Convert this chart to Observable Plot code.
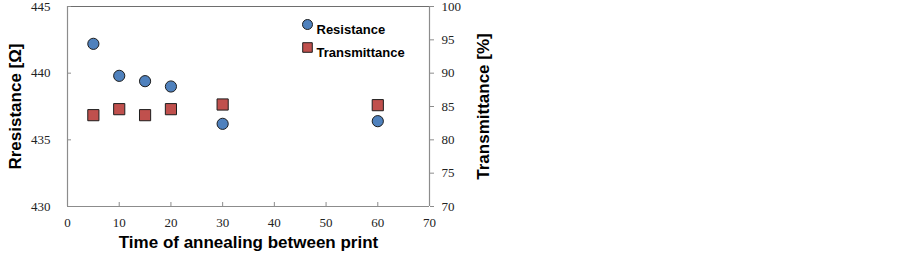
<!DOCTYPE html>
<html>
<head>
<meta charset="utf-8">
<script src="https://cdn.jsdelivr.net/npm/d3@7"></script>
<script src="https://cdn.jsdelivr.net/npm/@observablehq/plot@0.6"></script>
<style>
  html, body { margin: 0; padding: 0; background: #fff; }
  g[aria-label*="tick label"] { font-family: "Liberation Serif", "Times New Roman", serif !important; font-size: 13px; }
</style>
</head>
<body>
<div id="chart"></div>
<script>
const times = [5, 10, 15, 20, 30, 60];
const resistance = [442.2, 439.8, 439.4, 439.0, 436.2, 436.4];
const transmittance = [83.7, 84.6, 83.7, 84.6, 85.3, 85.2];
const xTicks = [0, 10, 20, 30, 40, 50, 60, 70];
const leftTicks = [430, 435, 440, 445];
const rightTicks = [70, 75, 80, 85, 90, 95, 100];

// map right-axis (transmittance %) onto left-axis (resistance) scale
const t2y = t => 430 + (t - 70) * (15 / 30);
const y2t = y => (y - 430) * (30 / 15) + 70;

const resData = times.map((t, i) => ({t, v: resistance[i]}));
const trData = times.map((t, i) => ({t, v: t2y(transmittance[i])}));

const blue = "#4f81bd", red = "#c0504d", edge = "#1e1e1e", axisGray = "#8c8c8c";
const sans = "Liberation Sans, Arial, sans-serif";
const serif = "Liberation Serif, Times New Roman, serif";

const chart = Plot.plot({
  width: 903,
  height: 257,
  marginLeft: 67,
  marginRight: 474,
  marginTop: 6,
  marginBottom: 51,
  style: {fontFamily: serif, fontSize: "13px", color: "#222", background: "#fff"},
  x: {domain: [0, 70]},
  y: {domain: [430, 445]},
  marks: [
    Plot.ruleY([445], {stroke: "#6e6e6e", strokeWidth: 1.2}),
    Plot.ruleY([430], {stroke: axisGray, strokeWidth: 1.2}),
    Plot.ruleX([0], {stroke: axisGray, strokeWidth: 1.2}),
    Plot.ruleX([70], {stroke: axisGray, strokeWidth: 1.2}),
    Plot.axisX({ticks: xTicks, tickSize: -4, tickPadding: 15, stroke: axisGray, fill: "#222", fontFamily: serif, fontSize: 13, label: null, tickFormat: d => String(d)}),
    Plot.axisY({ticks: leftTicks, anchor: "left", tickSize: -4, tickPadding: 21, stroke: axisGray, fill: "#222", fontFamily: serif, fontSize: 13, label: null, tickFormat: d => String(d)}),
    Plot.axisY({ticks: rightTicks.map(t2y), anchor: "right", tickSize: 4, tickPadding: 8, stroke: axisGray, fill: "#222", fontFamily: serif, fontSize: 13, label: null, tickFormat: d => String(Math.round(y2t(d)))}),
    Plot.dot(resData, {x: "t", y: "v", r: 5.6, fill: blue, stroke: edge, strokeWidth: 1}),
    Plot.dot(trData, {x: "t", y: "v", symbol: "square", r: 6.3, fill: red, stroke: edge, strokeWidth: 1}),
    // legend
    Plot.dot([0], {frameAnchor: "top-left", dx: 240, dy: 18, r: 5, fill: blue, stroke: edge, strokeWidth: 1}),
    Plot.text(["Resistance"], {frameAnchor: "top-left", dx: 249, dy: 18, textAnchor: "start", fontFamily: sans, fontWeight: "bold", fontSize: 13, fill: "#000"}),
    Plot.dot([0], {frameAnchor: "top-left", dx: 240, dy: 41, symbol: "square", r: 5.4, fill: red, stroke: edge, strokeWidth: 1}),
    Plot.text(["Transmittance"], {frameAnchor: "top-left", dx: 249, dy: 41, textAnchor: "start", fontFamily: sans, fontWeight: "bold", fontSize: 13, fill: "#000"}),
    // axis titles
    Plot.text(["Rresistance [Ω]"], {frameAnchor: "left", textAnchor: "middle", dx: -52, rotate: -90, fontFamily: sans, fontWeight: "bold", fontSize: 17, fill: "#000"}),
    Plot.text(["Transmittance [%]"], {frameAnchor: "right", textAnchor: "middle", dx: 54, rotate: -90, fontFamily: sans, fontWeight: "bold", fontSize: 17, fill: "#000"}),
    Plot.text(["Time of annealing between print"], {frameAnchor: "bottom", dy: 41, fontFamily: sans, fontWeight: "bold", fontSize: 17, fill: "#000"})
  ]
});
document.getElementById("chart").appendChild(chart);
</script>
</body>
</html>
